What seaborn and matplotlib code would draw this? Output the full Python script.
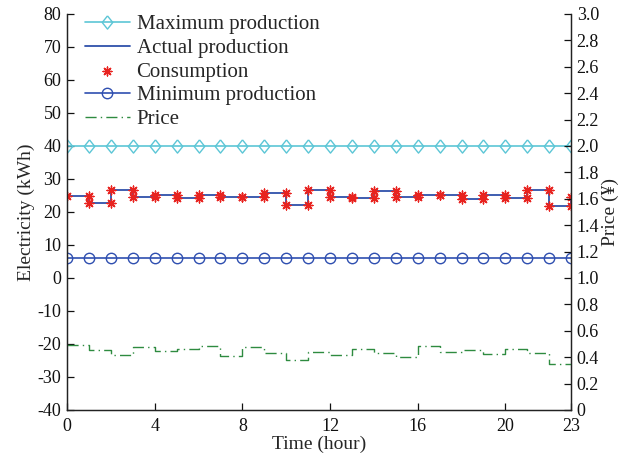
import numpy as np
import pandas as pd
import matplotlib
matplotlib.use("Agg")
import matplotlib.pyplot as plt
import seaborn as sns

sns.set_theme(style="white")
plt.rcParams['font.family'] = ['Liberation Serif', 'DejaVu Serif']
plt.rcParams['axes.unicode_minus'] = False

hours = list(range(24))
max_production = [40] * 24
min_production = [6] * 24
actual_production = [24.9, 22.6, 26.5, 24.6, 25.0, 24.1, 25.0, 24.4, 24.6, 25.6, 22.1, 26.5,
                     24.6, 24.3, 26.4, 24.6, 25.0, 25.0, 24.0, 25.1, 24.2, 26.5, 21.8, 24.6]
consumption = [24.9, 22.6, 26.5, 24.6, 25.0, 24.1, 25.0, 24.4, 24.6, 25.6, 22.1, 26.5,
               24.6, 24.3, 26.4, 24.6, 25.0, 25.0, 24.0, 25.1, 24.2, 26.5, 21.8, 24.6]
price = [0.49, 0.455, 0.414, 0.477, 0.444, 0.462, 0.487, 0.409, 0.475, 0.429, 0.376, 0.437,
         0.419, 0.465, 0.432, 0.404, 0.482, 0.439, 0.457, 0.427, 0.462, 0.432, 0.346, 0.346]
xticks = [0, 4, 8, 12, 16, 20, 23]

c_max = '#5cc6d6'
c_act = '#2f50aa'
c_min = '#2f4fb0'
c_cons = '#e8231f'
c_price = '#2e8b40'

fig = plt.figure(figsize=(6.29, 4.63), dpi=100)
ax = fig.add_axes([0.1065, 0.1145, 0.8015, 0.8555])
ax2 = ax.twinx()

df = pd.DataFrame({'hour': hours, 'max': max_production, 'min': min_production})
step_x = hours + [24]
df_act = pd.DataFrame({'hour': step_x, 'v': actual_production + [actual_production[-1]]})
df_price = pd.DataFrame({'hour': step_x, 'v': price + [price[-1]]})

# consumption points at step corners
cx, cy = [hours[0]], [consumption[0]]
for h in hours[1:]:
    cx += [h, h]
    cy += [consumption[h - 1], consumption[h]]
df_cons = pd.DataFrame({'hour': cx, 'v': cy})

diamond = [(0, 1), (0.8, 0), (0, -1), (-0.8, 0), (0, 1)]
sns.lineplot(data=df, x='hour', y='max', ax=ax, color=c_max, lw=1.2, marker=diamond,
             markersize=9.5, markerfacecolor='none', markeredgecolor=c_max, markeredgewidth=1.0,
             label='Maximum production', estimator=None)
sns.lineplot(data=df_act, x='hour', y='v', ax=ax, color=c_act, lw=1.3, drawstyle='steps-post',
             label='Actual production', estimator=None)
sns.scatterplot(data=df_cons, x='hour', y='v', ax=ax, color=c_cons, marker=(8, 2, 0), s=40,
                linewidth=1.0, edgecolor=c_cons, label='Consumption', zorder=5)
sns.lineplot(data=df, x='hour', y='min', ax=ax, color=c_min, lw=1.2, marker='o',
             markersize=7.5, markerfacecolor='none', markeredgecolor=c_min, markeredgewidth=1.0,
             label='Minimum production', estimator=None)
sns.lineplot(data=df_price, x='hour', y='v', ax=ax2, color=c_price, lw=1.0,
             linestyle=(0, (8, 3, 1, 3)), drawstyle='steps-post', label='Price', estimator=None)

ax.set_xlim(0, 23)
ax.set_ylim(-40, 80)
ax2.set_ylim(0, 3.0)
ax.set_xticks(xticks)
ax.set_yticks(np.arange(-40, 81, 10))
ax2.set_yticks(np.arange(0, 3.01, 0.2))
ax2.set_yticklabels(['0'] + [f'{v:.1f}' for v in np.arange(0.2, 3.01, 0.2)])

for a in (ax, ax2):
    a.spines['top'].set_visible(False)
    for s in ('left', 'right', 'bottom'):
        a.spines[s].set_color('#222222')
        a.spines[s].set_linewidth(0.9)
    a.tick_params(direction='in', length=5, width=0.9, labelsize=13, colors='#111111')
ax.tick_params(axis='y', left=True, right=False, pad=4)
ax.tick_params(axis='x', bottom=True, top=False, pad=6)
ax2.tick_params(axis='y', right=True, left=False, pad=4)

ax.set_xlabel('Time (hour)', fontsize=14, labelpad=0)
ax.set_ylabel('Electricity (kWh)', fontsize=14, labelpad=2)
ax2.set_ylabel('Price (¥)', fontsize=14, labelpad=2)

h1, l1 = ax.get_legend_handles_labels()
h2, l2 = ax2.get_legend_handles_labels()
if ax2.get_legend():
    ax2.get_legend().remove()
order = ['Maximum production', 'Actual production', 'Consumption', 'Minimum production', 'Price']
hm = dict(zip(l1 + l2, h1 + h2))
ax.legend([hm[k] for k in order], order, loc='upper left', frameon=False, fontsize=15,
          handlelength=2.2, labelspacing=0.2, borderaxespad=0.2, handletextpad=0.3,
          bbox_to_anchor=(0.01, 1.03))

fig.savefig('out.png', dpi=100)
